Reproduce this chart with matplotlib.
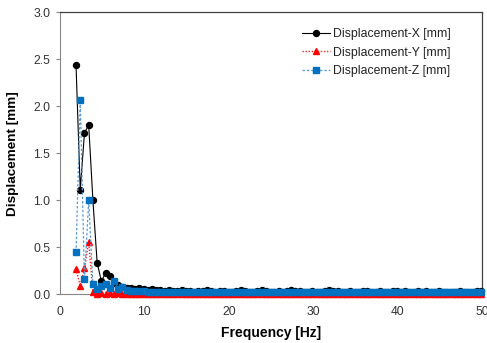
import matplotlib
matplotlib.use("Agg")
import matplotlib.pyplot as plt

plt.rcParams['font.family'] = ['Liberation Sans', 'DejaVu Sans']

freq = [1.9, 2.4, 2.9, 3.4, 3.9, 4.4, 4.9, 5.4, 5.9, 6.4,
        6.9, 7.4, 7.9, 8.4, 8.9, 9.4, 9.9, 10.4, 10.9, 11.4,
        11.9, 12.4, 12.9, 13.4, 13.9, 14.4, 14.9, 15.4, 15.9, 16.4,
        16.9, 17.4, 17.9, 18.4, 18.9, 19.4, 19.9, 20.4, 20.9, 21.4,
        21.9, 22.4, 22.9, 23.4, 23.9, 24.4, 24.9, 25.4, 25.9, 26.4,
        26.9, 27.4, 27.9, 28.4, 28.9, 29.4, 29.9, 30.4, 30.9, 31.4,
        31.9, 32.4, 32.9, 33.4, 33.9, 34.4, 34.9, 35.4, 35.9, 36.4,
        36.9, 37.4, 37.9, 38.4, 38.9, 39.4, 39.9, 40.4, 40.9, 41.4,
        41.9, 42.4, 42.9, 43.4, 43.9, 44.4, 44.9, 45.4, 45.9, 46.4,
        46.9, 47.4, 47.9, 48.4, 48.9, 49.4, 49.9]

disp_x = [2.44, 1.11, 1.72, 1.80, 1.00, 0.34, 0.14, 0.23, 0.20, 0.12,
          0.10, 0.08, 0.07, 0.07, 0.06, 0.07, 0.06, 0.05, 0.06, 0.05,
          0.045, 0.04, 0.045, 0.04, 0.04, 0.045, 0.04, 0.035, 0.03, 0.04, 0.035,
          0.045, 0.035, 0.03, 0.04, 0.035, 0.03, 0.03, 0.04, 0.045, 0.035, 0.03,
          0.03, 0.035, 0.045, 0.035, 0.03, 0.03, 0.035, 0.03, 0.035, 0.045, 0.04,
          0.035, 0.03, 0.03, 0.035, 0.03, 0.03, 0.035, 0.045, 0.04, 0.035, 0.03,
          0.03, 0.035, 0.03, 0.03, 0.04, 0.035, 0.03, 0.03, 0.035, 0.03, 0.03,
          0.04, 0.035, 0.03, 0.035, 0.03, 0.03, 0.04, 0.03, 0.035, 0.03, 0.03,
          0.035, 0.03, 0.03, 0.03, 0.03, 0.035, 0.03, 0.03, 0.03, 0.035, 0.04]

disp_y = [0.27, 0.09, 0.28, 0.56, 0.03, 0.01, 0.02, 0.01, 0.02, 0.01,
          0.02, 0.01,
          0.01, 0.005, 0.01, 0.005, 0.01, 0.005, 0.005, 0.01, 0.005, 0.005, 0.01,
          0.005, 0.005, 0.01, 0.0, 0.0, 0.0, 0.005, 0.0, 0.0, 0.0, 0.0,
          0.0, 0.0, 0.0, 0.0, 0.0, 0.0, 0.0, 0.0, 0.0, 0.0, 0.0,
          0.0, 0.0, 0.0, 0.0, 0.0, 0.0, 0.0, 0.0, 0.0, 0.0, 0.0,
          0.0, 0.0, 0.0, 0.0, 0.0, 0.0, 0.0, 0.0, 0.0, 0.0, 0.0,
          0.0, 0.0, 0.0, 0.0, 0.0, 0.0, 0.0, 0.0, 0.0, 0.0, 0.0,
          0.0, 0.0, 0.0, 0.0, 0.0, 0.0, 0.0, 0.0, 0.0, 0.0, 0.0,
          0.0, 0.0, 0.0, 0.0, 0.0, 0.0, 0.0, 0.0]

disp_z = [0.45, 2.07, 0.16, 1.00, 0.11, 0.06, 0.09, 0.11, 0.07, 0.14,
          0.06, 0.08, 0.05, 0.04, 0.04, 0.035, 0.035, 0.03, 0.03, 0.03,
          0.03, 0.03, 0.03, 0.03, 0.03, 0.03, 0.03, 0.03, 0.03, 0.03, 0.03,
          0.03, 0.03, 0.03, 0.03, 0.03, 0.03, 0.03, 0.03, 0.03, 0.03, 0.03,
          0.03, 0.03, 0.03, 0.03, 0.03, 0.03, 0.03, 0.03, 0.03, 0.03, 0.03,
          0.03, 0.03, 0.03, 0.03, 0.03, 0.03, 0.03, 0.03, 0.03, 0.03, 0.03,
          0.03, 0.03, 0.03, 0.03, 0.03, 0.03, 0.03, 0.03, 0.03, 0.03, 0.03,
          0.03, 0.03, 0.03, 0.03, 0.03, 0.03, 0.03, 0.03, 0.03, 0.03, 0.03,
          0.03, 0.03, 0.03, 0.03, 0.03, 0.03, 0.03, 0.03, 0.03, 0.03, 0.03]

series_labels = ['Displacement-X [mm]', 'Displacement-Y [mm]', 'Displacement-Z [mm]']
x_ticks = [0, 10, 20, 30, 40, 50]
y_ticks = [0.0, 0.5, 1.0, 1.5, 2.0, 2.5, 3.0]

fig = plt.figure(figsize=(4.87, 3.43), dpi=100)
ax = fig.add_axes([0.1232, 0.1414, 0.8665, 0.8227])

ax.plot(freq, disp_x, color='black', lw=0.8, marker='o', ms=4.3,
        mfc='black', mec='black', label=series_labels[0], clip_on=False, zorder=3)
ax.plot(freq, disp_y, color='#ff2020', lw=1.0, ls=(0, (1, 1.2)), marker='^', ms=4.6,
        mfc='#ff0000', mec='#ff0000', label=series_labels[1], clip_on=False, zorder=4)
ax.plot(freq, disp_z, color='#5b9bd5', lw=0.9, ls=(0, (2, 1.5)), marker='s', ms=4.4,
        mfc='#0070c0', mec='#0070c0', label=series_labels[2], clip_on=False, zorder=5)

ax.set_xlim(0, 50)
ax.set_ylim(0, 3.0)
ax.set_xticks(x_ticks)
ax.set_yticks(y_ticks)
ax.set_yticklabels([f"{v:.1f}" for v in y_ticks])
ax.tick_params(axis='both', labelsize=8.7, colors='#404040', labelcolor='#333333')
ax.tick_params(axis='x', length=0, pad=8)
ax.tick_params(axis='y', length=3, width=0.8, direction='out', pad=4, colors='#868686', labelcolor='#333333')

for s in ['left', 'bottom']:
    ax.spines[s].set_color('#868686')
    ax.spines[s].set_linewidth(0.8)
for s in ['top', 'right']:
    ax.spines[s].set_color('#404040')
    ax.spines[s].set_linewidth(0.9)

ax.set_xlabel('Frequency [Hz]', fontsize=10, fontweight='bold', labelpad=6)
ax.set_ylabel('Displacement [mm]', fontsize=9.7, fontweight='bold', labelpad=10)

leg = ax.legend(loc='upper left', bbox_to_anchor=(0.5735, 0.945), frameon=False,
                borderaxespad=0, borderpad=0,
                fontsize=8.8, handlelength=2.3, handletextpad=0.25, labelspacing=0.55)
for t in leg.get_texts():
    t.set_color('#222222')

fig.savefig('out.png', dpi=100)
